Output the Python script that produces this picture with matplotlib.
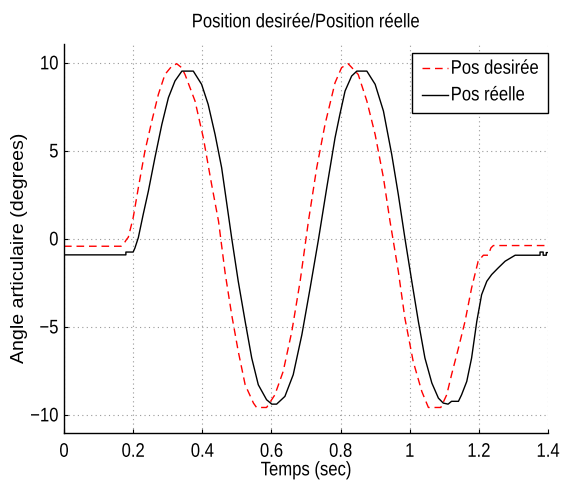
import matplotlib
matplotlib.use("Agg")
import matplotlib.pyplot as plt
from matplotlib import font_manager
from matplotlib.patheffects import AbstractPathEffect
from matplotlib.transforms import Affine2D

# ---------------- data ----------------
t_desiree = [0.0, 0.165, 0.173, 0.181, 0.186, 0.2, 0.215, 0.234, 0.254, 0.273,
             0.292, 0.31, 0.326, 0.34, 0.35, 0.379, 0.403, 0.427, 0.447, 0.466,
             0.485, 0.504, 0.524, 0.548, 0.557, 0.586, 0.61, 0.634, 0.659, 0.683,
             0.707, 0.731, 0.755, 0.784, 0.803, 0.822, 0.851, 0.876, 0.9, 0.924,
             0.943, 0.967, 0.986, 1.01, 1.035, 1.054, 1.09, 1.107, 1.121, 1.141,
             1.16, 1.179, 1.198, 1.213, 1.227, 1.235, 1.242, 1.4]
pos_desiree = [-0.39, -0.39, -0.25, 0.0, 0.12, 1.22, 2.93, 5.01, 6.72, 8.24,
               9.37, 9.8, 9.98, 9.76, 9.37, 7.86, 5.77, 3.12, 1.03, -1.9,
               -4.28, -6.36, -8.26, -9.3, -9.55, -9.55, -8.83, -7.5, -5.23, -2.38,
               1.03, 4.07, 6.53, 8.9, 9.76, 9.98, 9.37, 7.86, 5.96, 3.5,
               1.03, -1.81, -4.47, -6.93, -8.64, -9.55, -9.55, -8.83, -7.69, -6.17,
               -4.66, -2.76, -1.24, -0.9, -0.9, -0.48, -0.35, -0.35]

t_reelle = [0.0, 0.179, 0.179, 0.2, 0.205, 0.215, 0.229, 0.244, 0.263, 0.283,
            0.302, 0.321, 0.341, 0.374, 0.398, 0.417, 0.437, 0.456, 0.466, 0.485,
            0.504, 0.524, 0.543, 0.562, 0.586, 0.601, 0.615, 0.639, 0.663, 0.688,
            0.712, 0.736, 0.76, 0.784, 0.798, 0.813, 0.832, 0.847, 0.876, 0.9,
            0.924, 0.948, 0.967, 0.986, 1.006, 1.025, 1.044, 1.064, 1.083, 1.097,
            1.111, 1.121, 1.141, 1.15, 1.165, 1.179, 1.194, 1.208, 1.223, 1.237,
            1.256, 1.276, 1.305, 1.377, 1.377, 1.386, 1.386, 1.395, 1.395, 1.4]
pos_reelle = [-0.88, -0.88, -0.72, -0.72, -0.5, 0.1, 1.41, 2.74, 4.64, 6.53,
              8.05, 9.0, 9.56, 9.56, 8.81, 7.67, 5.96, 4.07, 2.7, 0.08,
              -2.38, -4.66, -6.74, -8.26, -9.11, -9.36, -9.36, -8.92, -7.69, -5.42,
              -2.76, -0.01, 2.93, 5.77, 7.1, 8.43, 9.28, 9.56, 9.56, 8.81,
              7.29, 4.82, 2.55, 0.08, -2.38, -4.66, -6.74, -8.16, -9.02, -9.3,
              -9.36, -9.2, -9.2, -8.83, -8.07, -6.74, -4.66, -3.14, -2.38, -2.0,
              -1.62, -1.24, -0.9, -0.9, -0.72, -0.72, -0.9, -0.9, -0.75, -0.75]

x_ticks = [0, 0.2, 0.4, 0.6, 0.8, 1.0, 1.2, 1.4]
x_tick_labels = ["0", "0.2", "0.4", "0.6", "0.8", "1", "1.2", "1.4"]
y_ticks = [-10, -5, 0, 5, 10]
y_tick_labels = ["\u221210", "\u22125", "0", "5", "10"]

title = "Position desirée/Position réelle"
xlabel = "Temps (sec)"
ylabel = "Angle articulaire (degrees)"
labels = ["Pos desirée", "Pos réelle"]


# ---------------- style ----------------
class VStretch(AbstractPathEffect):
    """Draw text glyphs taller (narrow-looking font, like the reference)."""
    def __init__(self, sy):
        super().__init__()
        self.sy = sy

    def draw_path(self, renderer, gc, tpath, affine, rgbFace=None):
        renderer.draw_path(gc, tpath, Affine2D().scale(1.0, self.sy) + affine, rgbFace)


installed = {f.name for f in font_manager.fontManager.ttflist}
fams = [f for f in ["Liberation Sans", "DejaVu Sans"] if f in installed]
plt.rcParams["font.family"] = fams
FS = 12
SY = 1.18
stretch = [VStretch(SY)]

fig = plt.figure(figsize=(5.64, 4.91), dpi=100)
ax = fig.add_axes([64 / 564, 1 - 433 / 491, (548 - 64) / 564, (433 - 44) / 491])

ax.plot(t_desiree, pos_desiree, color="red", lw=1.0, linestyle=(0, (5.5, 3.5)), label=labels[0])
ax.plot(t_reelle, pos_reelle, color="black", lw=1.0, label=labels[1])

ax.set_xlim(0, 1.4)
ax.set_ylim(-11, 11.1)
ax.set_xticks(x_ticks)
ax.set_xticklabels(x_tick_labels)
ax.set_yticks(y_ticks)
ax.set_yticklabels(y_tick_labels)
ax.tick_params(direction="in", length=3, width=0.8, labelsize=FS)
ax.tick_params(axis="x", pad=8.5)
ax.tick_params(axis="y", pad=4)

for s in ["top", "right"]:
    ax.spines[s].set_visible(False)
for s in ["left", "bottom"]:
    ax.spines[s].set_linewidth(1.0)

ax.grid(True, color="0.6", linestyle=(0, (1, 3)), linewidth=0.8)
ax.set_axisbelow(True)

t = ax.set_title(title, fontsize=FS, pad=12)
t.set_path_effects(stretch)
xl = ax.set_xlabel(xlabel, fontsize=FS)
xl.set_path_effects(stretch)
ax.xaxis.set_label_coords(0.5, -0.078)
ax.set_ylabel(ylabel, fontsize=14)
ax.yaxis.set_label_coords(-0.074, 0.476)

for tk in ax.xaxis.get_major_ticks(len(x_ticks)) + ax.yaxis.get_major_ticks(len(y_ticks)):
    tk.label1.set_path_effects(stretch)

leg = ax.legend(loc="upper right", bbox_to_anchor=(1.0, 0.978), fontsize=FS,
                frameon=True, fancybox=False, edgecolor="black", framealpha=1,
                handlelength=1.6, handletextpad=0.15, borderpad=0.55, labelspacing=0.7,
                borderaxespad=0.0)
leg.get_frame().set_linewidth(1.0)
for txt in leg.get_texts():
    txt.set_path_effects(stretch)

fig.savefig("out.png", dpi=100)
